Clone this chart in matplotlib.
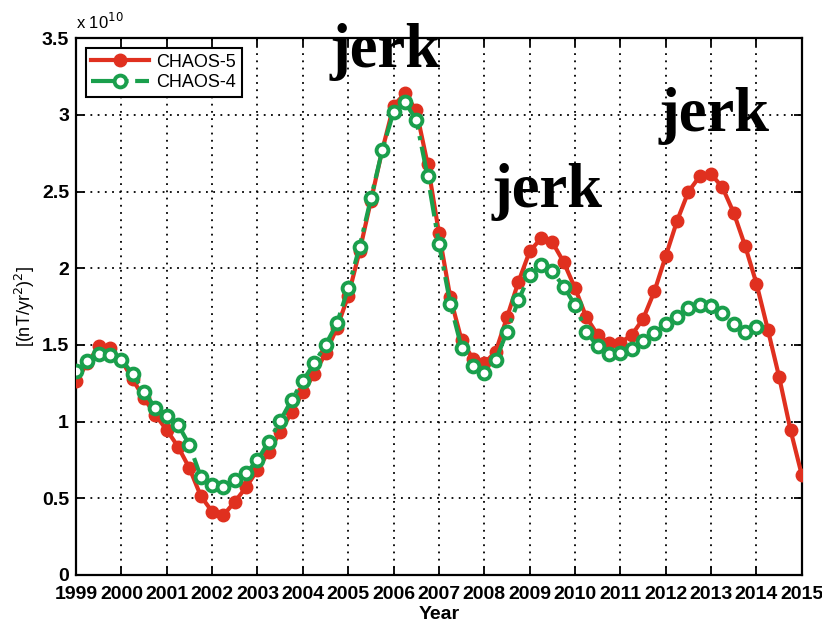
import matplotlib
matplotlib.use("Agg")
import matplotlib.pyplot as plt

# quarter-year epochs and secular acceleration energy (units of 1e10 (nT/yr^2)^2)
years_c5 = [1999.0, 1999.25, 1999.5, 1999.75, 2000.0, 2000.25, 2000.5, 2000.75,
            2001.0, 2001.25, 2001.5, 2001.75, 2002.0, 2002.25, 2002.5, 2002.75,
            2003.0, 2003.25, 2003.5, 2003.75, 2004.0, 2004.25, 2004.5, 2004.75,
            2005.0, 2005.25, 2005.5, 2005.75, 2006.0, 2006.25, 2006.5, 2006.75,
            2007.0, 2007.25, 2007.5, 2007.75, 2008.0, 2008.25, 2008.5, 2008.75,
            2009.0, 2009.25, 2009.5, 2009.75, 2010.0, 2010.25, 2010.5, 2010.75,
            2011.0, 2011.25, 2011.5, 2011.75, 2012.0, 2012.25, 2012.5, 2012.75,
            2013.0, 2013.25, 2013.5, 2013.75, 2014.0, 2014.25, 2014.5, 2014.75,
            2015.0]
chaos5 = [1.265, 1.38, 1.49, 1.48, 1.40, 1.275, 1.152, 1.043,
          0.945, 0.836, 0.696, 0.515, 0.413, 0.39, 0.478, 0.572,
          0.685, 0.805, 0.932, 1.06, 1.19, 1.31, 1.445, 1.61,
          1.82, 2.11, 2.44, 2.77, 3.06, 3.14, 3.03, 2.68,
          2.23, 1.81, 1.53, 1.41, 1.38, 1.456, 1.68, 1.91,
          2.11, 2.195, 2.17, 2.04, 1.87, 1.68, 1.565, 1.51,
          1.515, 1.565, 1.67, 1.85, 2.08, 2.31, 2.50, 2.60,
          2.614, 2.527, 2.36, 2.145, 1.90, 1.60, 1.29, 0.945,
          0.65]

years_c4 = years_c5[:61]
chaos4 = [1.328, 1.395, 1.44, 1.432, 1.405, 1.31, 1.195, 1.088,
          1.035, 0.98, 0.847, 0.64, 0.587, 0.575, 0.618, 0.663,
          0.75, 0.87, 1.005, 1.14, 1.265, 1.38, 1.50, 1.64,
          1.87, 2.14, 2.455, 2.77, 3.02, 3.085, 2.966, 2.60,
          2.16, 1.77, 1.48, 1.36, 1.315, 1.40, 1.586, 1.79,
          1.956, 2.02, 1.98, 1.88, 1.76, 1.586, 1.49, 1.44,
          1.445, 1.475, 1.525, 1.578, 1.635, 1.685, 1.74, 1.76,
          1.755, 1.706, 1.635, 1.586, 1.62]

xticks = list(range(1999, 2016))
yticks = [0, 0.5, 1, 1.5, 2, 2.5, 3, 3.5]
ytick_labels = ['0', '0.5', '1', '1.5', '2', '2.5', '3', '3.5']

# "jerk" annotations: (x, y) in data units
jerk_pos = [(2005.81, 3.41), (2009.38, 2.50), (2013.07, 2.99)]

red = '#e0301f'
green = '#1a9f4c'

plt.rcParams['font.family'] = ['Liberation Sans', 'DejaVu Sans']
narrow = ['Liberation Sans Narrow', 'Liberation Sans', 'DejaVu Sans']

fig = plt.figure(figsize=(8.22, 6.27), dpi=100)
ax = fig.add_axes([0.0925, 0.083, 0.883, 0.856])

ax.plot(years_c5, chaos5, color=red, lw=3, marker='o', ms=9,
        mfc=red, mec=red, label='CHAOS-5', zorder=3)
ax.plot(years_c4, chaos4, color=green, lw=3, ls='-.', marker='o', ms=8.5,
        mfc='white', mec=green, mew=2.8, label='CHAOS-4', zorder=4)

ax.set_xlim(1999, 2015)
ax.set_ylim(0, 3.5)
ax.set_xticks(xticks)
ax.set_yticks(yticks)
ax.set_yticklabels(ytick_labels)
ax.tick_params(direction='in', top=True, right=True, length=6, width=1.3)
ax.tick_params(axis='x', pad=8)
ax.tick_params(axis='y', pad=5)
for lab in ax.get_xticklabels() + ax.get_yticklabels():
    lab.set_family(narrow)
    lab.set_fontsize(14)
    lab.set_fontweight('bold')
ax.grid(True, color='black', ls=(0, (1, 3)), lw=1.3)
for s in ax.spines.values():
    s.set_linewidth(1.6)

ax.set_xlabel('Year', fontsize=14, fontweight='bold', family=narrow, labelpad=2)
ax.set_ylabel(r'[(nT/yr$^2$)$^2$]', fontsize=13)
ax.yaxis.set_label_coords(-0.054, 0.5)

ax.text(0.0, 1.012, r'x 10$^{10}$', transform=ax.transAxes, fontsize=12,
        ha='left', va='bottom')

for x, y in jerk_pos:
    ax.text(x, y, 'jerk', fontsize=45, fontweight='bold',
            family='Liberation Serif', ha='center', va='center', zorder=5)

leg = ax.legend(loc='upper left', fontsize=13, handlelength=3.2,
                fancybox=False, edgecolor='black', framealpha=1,
                borderaxespad=0.55, labelspacing=0.2, handletextpad=0.4,
                borderpad=0.3)
leg.get_frame().set_linewidth(1.5)

fig.savefig('out.png', dpi=100)
